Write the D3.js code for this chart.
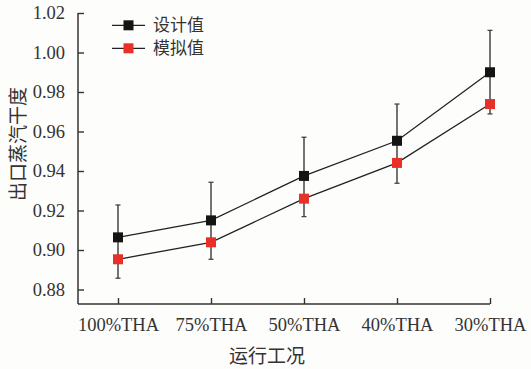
<!DOCTYPE html>
<html><head><meta charset="utf-8">
<script src="https://cdn.jsdelivr.net/npm/d3@7"></script>
<style>html,body{margin:0;padding:0;background:#fdfdfc;}svg{display:block;}</style>
</head><body>
<script>
const categories = ["100%THA","75%THA","50%THA","40%THA","30%THA"];
const designValues = [0.9064, 0.9150, 0.9375, 0.9553, 0.9900];
const simValues    = [0.8953, 0.9039, 0.9260, 0.9441, 0.9739];
const errorTop     = [0.9228, 0.9343, 0.9571, 0.9739, 1.0112];
const errorBottom  = [0.8857, 0.8953, 0.9169, 0.9338, 0.9689];
const yTicks = [0.88,0.90,0.92,0.94,0.96,0.98,1.00,1.02];
const seriesNames = ["设计值","模拟值"];
const seriesColors = ["#141414","#e8302a"];

const W=531,H=369;
const svg=d3.select("body").append("svg").attr("width",W).attr("height",H);
const axisLeftX=78, axisBottomY=304;
const x=d3.scalePoint().domain(categories).range([118,490]);
const y=d3.scaleLinear().domain([0.88,1.02]).range([289.5,13]);

const serif="'Liberation Serif','Times New Roman',serif";
const cjk="'Noto Sans CJK SC','Noto Sans CJK JP',sans-serif";
const axisColor="#333";

// Y axis
const yAxis=svg.append("g").attr("transform",`translate(${axisLeftX},0)`)
  .call(d3.axisLeft(y).tickValues(yTicks).tickFormat(d3.format(".2f")).tickSizeInner(-6).tickSizeOuter(0).tickPadding(7));
yAxis.select(".domain").remove();
yAxis.selectAll(".tick line").attr("stroke",axisColor).attr("stroke-width",1.4);
yAxis.selectAll("text").attr("font-family",serif).attr("font-size",18.5).attr("fill","#333").attr("dx",-6);
svg.append("line").attr("x1",axisLeftX).attr("x2",axisLeftX).attr("y1",y(1.02)).attr("y2",axisBottomY)
  .attr("stroke",axisColor).attr("stroke-width",1.5);

// X axis
const xAxis=svg.append("g").attr("transform",`translate(0,${axisBottomY})`)
  .call(d3.axisBottom(x).tickSizeInner(-6).tickSizeOuter(0).tickPadding(14));
xAxis.select(".domain").remove();
xAxis.selectAll(".tick line").attr("stroke",axisColor).attr("stroke-width",1.4);
xAxis.selectAll("text").attr("font-family",serif).attr("font-size",18.5).attr("fill","#333");
svg.append("line").attr("x1",axisLeftX).attr("x2",x(categories[categories.length-1])).attr("y1",axisBottomY).attr("y2",axisBottomY)
  .attr("stroke",axisColor).attr("stroke-width",1.5);

// Error bars
const eb=svg.append("g");
categories.forEach((c,i)=>{
  eb.append("line").attr("x1",x(c)).attr("x2",x(c)).attr("y1",y(errorTop[i])).attr("y2",y(errorBottom[i]))
    .attr("stroke","#444").attr("stroke-width",1.5);
  [errorTop[i],errorBottom[i]].forEach(v=>{
    eb.append("line").attr("x1",x(c)-2.5).attr("x2",x(c)+2.5).attr("y1",y(v)).attr("y2",y(v))
      .attr("stroke","#444").attr("stroke-width",1.3);
  });
});

// Lines and markers
const line=d3.line().x((d,i)=>x(categories[i])).y(d=>y(d));
[designValues,simValues].forEach((vals,s)=>{
  svg.append("path").datum(vals).attr("d",line).attr("fill","none").attr("stroke","#222").attr("stroke-width",1.3);
});
[designValues,simValues].forEach((vals,s)=>{
  svg.append("g").selectAll("rect").data(vals).join("rect")
    .attr("x",(d,i)=>x(categories[i])-5).attr("y",d=>y(d)-5).attr("width",10).attr("height",10)
    .attr("fill",seriesColors[s]);
});

// Legend
const lg=svg.append("g");
seriesNames.forEach((n,i)=>{
  const ly=25.3+i*23;
  lg.append("line").attr("x1",112).attr("x2",145).attr("y1",ly).attr("y2",ly).attr("stroke","#222").attr("stroke-width",1.3);
  lg.append("rect").attr("x",128.5-5).attr("y",ly-5).attr("width",10).attr("height",10).attr("fill",seriesColors[i]);
  lg.append("text").attr("x",153).attr("y",ly).attr("dy","0.36em").attr("font-family",cjk).attr("font-size",17)
    .attr("fill","#333").text(n);
});

// Axis titles
svg.append("text").attr("x",267).attr("y",356).attr("dy","0.36em").attr("text-anchor","middle")
  .attr("font-family",cjk).attr("font-size",19).attr("fill","#333").text("运行工况");
svg.append("text").attr("transform","translate(18,144) rotate(-90)").attr("dy","0.36em").attr("text-anchor","middle")
  .attr("font-family",cjk).attr("font-size",19).attr("fill","#333").text("出口蒸汽干度");
</script>
</body></html>
